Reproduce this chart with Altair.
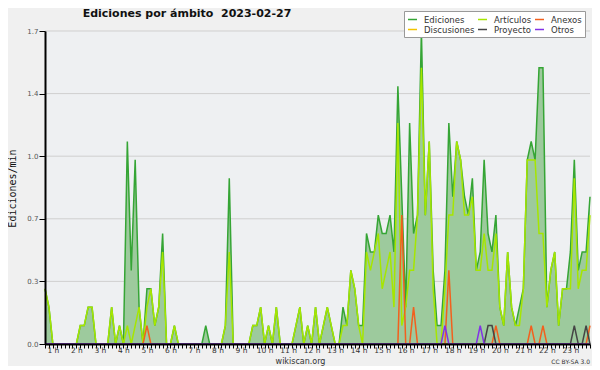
import altair as alt
import pandas as pd

# 10-minute bins (index 0..139); hour labels sit on index 2, 8, 14, ...
ediciones = [
    0.3, 0.2, 0, 0, 0, 0, 0, 0, 0, 0.1,
    0.1, 0.2, 0.2, 0, 0, 0, 0, 0.2, 0, 0.1,
    0, 1.1, 0.4, 1.0, 0.2, 0, 0.3, 0.3, 0.1, 0.2,
    0.6, 0, 0, 0.1, 0, 0, 0, 0, 0, 0,
    0, 0.1, 0, 0, 0, 0, 0.1, 0.9, 0, 0,
    0, 0, 0, 0.1, 0.1, 0.2, 0, 0.1, 0, 0.2,
    0, 0, 0, 0, 0.1, 0.2, 0, 0.1, 0, 0.2,
    0, 0.1, 0.2, 0.1, 0, 0, 0.2, 0.1, 0.4, 0.3,
    0.1, 0.1, 0.6, 0.5, 0.5, 0.7, 0.6, 0.6, 0.7, 0.5,
    1.4, 0.8, 0.2, 1.2, 0.6, 0.7, 1.7, 0.7, 1.1, 0.4,
    0.1, 0.1, 0.4, 1.2, 0.8, 1.1, 1.0, 0.8, 0.7, 0.9,
    0.4, 0.5, 1.0, 0.6, 0.5, 0.7, 0.2, 0.1, 0.5, 0.2,
    0.1, 0.2, 0.3, 1.0, 1.1, 1.0, 1.5, 1.5, 0.2, 0.4,
    0.5, 0.1, 0.3, 0.3, 0.5, 1.0, 0.4, 0.5, 0.5, 0.8,
]

articulos = [
    0.3, 0.2, 0, 0, 0, 0, 0, 0, 0, 0.1,
    0.1, 0.2, 0.2, 0, 0, 0, 0, 0.2, 0, 0.1,
    0, 0.1, 0, 0.1, 0.2, 0, 0.2, 0.3, 0.1, 0.2,
    0.5, 0, 0, 0.1, 0, 0, 0, 0, 0, 0,
    0, 0, 0, 0, 0, 0, 0.1, 0.5, 0, 0,
    0, 0, 0, 0.1, 0.1, 0.2, 0, 0.1, 0, 0.2,
    0, 0, 0, 0, 0.1, 0.2, 0, 0.1, 0, 0.2,
    0, 0.1, 0.2, 0.1, 0, 0, 0.1, 0.1, 0.4, 0.3,
    0.1, 0, 0.5, 0.4, 0.5, 0.6, 0.3, 0.4, 0.5, 0.2,
    1.2, 0.1, 0.2, 0.4, 0.4, 0.7, 1.5, 0.7, 1.1, 0.3,
    0, 0, 0.3, 0.7, 0.7, 1.1, 1.0, 0.7, 0.7, 0.8,
    0.4, 0.4, 0.6, 0.4, 0.4, 0.6, 0.2, 0.1, 0.5, 0.2,
    0.1, 0.1, 0.3, 1.0, 1.0, 1.0, 0.6, 0.6, 0.2, 0.4,
    0.5, 0.1, 0.3, 0.3, 0.3, 0.9, 0.3, 0.4, 0.4, 0.7,
]

anexos = [
    0, 0, 0, 0, 0, 0, 0, 0, 0, 0,
    0, 0, 0, 0, 0, 0, 0, 0, 0, 0,
    0, 0, 0, 0, 0, 0, 0.1, 0, 0, 0,
    0, 0, 0, 0, 0, 0, 0, 0, 0, 0,
    0, 0, 0, 0, 0, 0, 0, 0, 0, 0,
    0, 0, 0, 0, 0, 0, 0, 0, 0, 0,
    0, 0, 0, 0, 0, 0, 0, 0, 0, 0,
    0, 0, 0, 0, 0, 0, 0, 0, 0, 0,
    0, 0, 0, 0, 0, 0, 0, 0, 0, 0,
    0, 0.7, 0, 0, 0.2, 0, 0, 0, 0, 0,
    0, 0, 0, 0.4, 0, 0, 0, 0, 0, 0,
    0, 0, 0, 0, 0, 0.1, 0, 0, 0, 0,
    0, 0, 0, 0, 0.1, 0, 0, 0.1, 0, 0,
    0, 0, 0, 0, 0, 0, 0, 0, 0, 0.1,
]

discusiones = [
    0, 0, 0, 0, 0, 0, 0, 0, 0, 0,
    0, 0, 0, 0, 0, 0, 0, 0, 0, 0,
    0, 0, 0, 0, 0, 0, 0, 0, 0, 0,
    0, 0, 0, 0, 0, 0, 0, 0, 0, 0,
    0, 0, 0, 0, 0, 0, 0, 0, 0, 0,
    0, 0, 0, 0, 0, 0, 0, 0, 0, 0,
    0, 0, 0, 0, 0, 0, 0, 0, 0, 0,
    0, 0, 0, 0, 0, 0, 0, 0, 0, 0,
    0, 0, 0, 0, 0, 0, 0, 0, 0, 0,
    0, 0, 0, 0, 0, 0, 0, 0, 0, 0,
    0, 0, 0, 0, 0, 0, 0, 0, 0, 0,
    0, 0, 0, 0, 0, 0, 0, 0, 0, 0,
    0, 0, 0, 0, 0, 0, 0, 0, 0, 0,
    0, 0, 0, 0, 0, 0, 0, 0, 0, 0,
]

proyecto = [
    0, 0, 0, 0, 0, 0, 0, 0, 0, 0,
    0, 0, 0, 0, 0, 0, 0, 0, 0, 0,
    0, 0, 0, 0, 0, 0, 0, 0, 0, 0,
    0, 0, 0, 0, 0, 0, 0, 0, 0, 0,
    0, 0, 0, 0, 0, 0, 0, 0, 0, 0,
    0, 0, 0, 0, 0, 0, 0, 0, 0, 0,
    0, 0, 0, 0, 0, 0, 0, 0, 0, 0,
    0, 0, 0, 0, 0, 0, 0, 0, 0, 0,
    0, 0, 0, 0, 0, 0, 0, 0, 0, 0,
    0, 0, 0, 0, 0, 0, 0, 0, 0, 0,
    0, 0, 0, 0, 0, 0, 0, 0, 0, 0,
    0, 0, 0, 0.1, 0.1, 0, 0, 0, 0, 0,
    0, 0, 0, 0, 0, 0, 0, 0, 0, 0,
    0, 0, 0, 0, 0, 0.1, 0, 0, 0.1, 0,
]

otros = [
    0, 0, 0, 0, 0, 0, 0, 0, 0, 0,
    0, 0, 0, 0, 0, 0, 0, 0, 0, 0,
    0, 0, 0, 0, 0, 0, 0, 0, 0, 0,
    0, 0, 0, 0, 0, 0, 0, 0, 0, 0,
    0, 0, 0, 0, 0, 0, 0, 0, 0, 0,
    0, 0, 0, 0, 0, 0, 0, 0, 0, 0,
    0, 0, 0, 0, 0, 0, 0, 0, 0, 0,
    0, 0, 0, 0, 0, 0, 0, 0, 0, 0,
    0, 0, 0, 0, 0, 0, 0, 0, 0, 0,
    0, 0, 0, 0, 0, 0, 0, 0, 0, 0,
    0, 0, 0.1, 0, 0, 0, 0, 0, 0, 0,
    0, 0.1, 0, 0, 0, 0, 0, 0, 0, 0,
    0, 0, 0, 0, 0, 0, 0, 0, 0, 0,
    0, 0, 0, 0, 0, 0, 0, 0, 0, 0,
]

# drawing order (back to front)
series_names = ["Ediciones", "Artículos", "Anexos", "Discusiones", "Proyecto", "Otros"]
series_colors = ["#35a535", "#a6e600", "#f2601e", "#f2c400", "#454545", "#8232e6"]
series_values = [ediciones, articulos, anexos, discusiones, proyecto, otros]
# legend order (filled column by column, 3 columns x 2 rows)
legend_order = ["Ediciones", "Discusiones", "Artículos", "Proyecto", "Anexos", "Otros"]
legend_colors = [series_colors[series_names.index(n)] for n in legend_order]

y_major = [0.0, 0.34, 0.68, 1.02, 1.36, 1.7]
y_ticks = [round(k * 0.085, 4) for k in range(21)]

N = len(ediciones)
rows = []
for name, vals in zip(series_names, series_values):
    for i, v in enumerate(vals):
        rows.append({"i": i, "v": v, "s": name})
df = pd.DataFrame(rows)
df_e = pd.DataFrame({"i": list(range(N)), "v": ediciones})
grid_df = pd.DataFrame({"g": y_major[1:]})

label_expr = "(datum.value % 6 == 2) ? ((datum.value + 4) / 6 + ' h') : ''"
major_test = "abs(datum.value / 0.34 - round(datum.value / 0.34)) < 0.001"

x_enc = alt.X(
    "i:Q",
    scale=alt.Scale(domain=[0, N - 1], nice=False, zero=False),
    axis=alt.Axis(
        values=list(range(N)), labelExpr=label_expr, tickSize=4, tickColor="black",
        domainColor="black", domainWidth=2, labelFontSize=7.5, labelFont="DejaVu Sans",
        labelColor="#333", labelPadding=-2, labelOverlap=False, labelFlush=False,
        grid=False, zindex=1,
        title="wikiscan.org", titleFont="DejaVu Sans", titleFontSize=8,
        titleFontWeight="normal", titleColor="#333", titleX=255, titleY=17,
        titleAnchor="start", titleAlign="center", titleBaseline="middle",
    ),
)
y_enc = alt.Y(
    "v:Q",
    scale=alt.Scale(domain=[0, 1.7], nice=False, zero=True),
    axis=alt.Axis(
        values=y_ticks,
        labelExpr=f"({major_test}) ? format(datum.value, '.1f') : ''",
        tickSize={"condition": {"test": major_test, "value": 6}, "value": 3},
        tickColor="black", domainColor="black", domainWidth=2,
        labelFontSize=7, labelFont="DejaVu Sans", labelColor="#555", labelPadding=1,
        grid=False, zindex=1,
        title="Ediciones/min", titleFont="DejaVu Sans Mono", titleFontSize=10,
        titleFontWeight="normal", titleColor="#111", titleX=-33, titleY=157,
        titleAngle=270, titleAlign="center", titleBaseline="middle",
    ),
)

color_enc = alt.Color(
    "s:N",
    scale=alt.Scale(domain=legend_order, range=legend_colors),
    legend=alt.Legend(
        orient="none", legendX=359, legendY=-20, columns=3, title=None,
        symbolType="stroke", symbolSize=81, symbolStrokeWidth=1.5,
        labelFont="DejaVu Sans", labelFontSize=8.5, labelColor="#333",
        labelOffset=6, rowPadding=0, columnPadding=0, padding=3,
        fillColor="white", strokeColor="#999",
    ),
)

grid = alt.Chart(grid_df).mark_rule(color="#cfcfcf", strokeWidth=1).encode(
    y=alt.Y("g:Q", scale=alt.Scale(domain=[0, 1.7]))
)
area = alt.Chart(df_e).mark_area(color="#9dca9d", interpolate="linear").encode(x=x_enc, y=y_enc)

line_layers = []
for name in series_names:
    line_layers.append(
        alt.Chart(df).transform_filter(alt.datum.s == name)
        .mark_line(strokeWidth=1.5, interpolate="linear")
        .encode(x=x_enc, y=y_enc, color=color_enc)
    )

title_df = pd.DataFrame({"t": ["Ediciones por ámbito \u00a02023-02-27"]})
title = alt.Chart(title_df).mark_text(
    font="DejaVu Sans", fontSize=11, fontWeight="bold", color="#111", align="center", baseline="middle"
).encode(text="t:N", x=alt.value(142), y=alt.value(-17))

cc_df = pd.DataFrame({"t": ["CC BY-SA 3.0"]})
cc = alt.Chart(cc_df).mark_text(
    font="DejaVu Sans", fontSize=6, color="#333", align="right", baseline="middle"
).encode(text="t:N", x=alt.value(545), y=alt.value(331))

chart = alt.layer(grid, area, *line_layers, title, cc).properties(
    width=545, height=313,
    autosize=alt.AutoSizeParams(type="none"),
    padding={"left": 37, "top": 23, "right": 2, "bottom": 22},
    background="#f0f0f0",
).configure_view(fill="#eef0f2", stroke=None)

chart.save("out.html", embed_options={"renderer": "svg", "actions": False})
